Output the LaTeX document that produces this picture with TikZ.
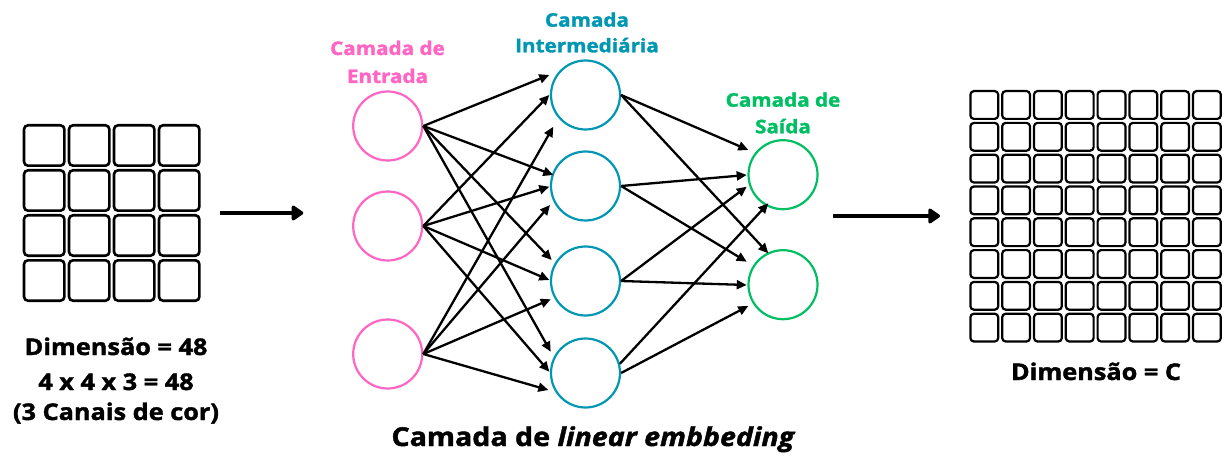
\documentclass[tikz,border=0pt]{standalone}
\usepackage{fontspec}
\setmainfont{Open Sans}
\newfontfamily\heavyfont[FakeStretch=1.1,FakeBold=1.6]{Open Sans}
\usetikzlibrary{arrows.meta,calc}
\definecolor{inpink}{HTML}{FF66C4}
\definecolor{midteal}{HTML}{0097B2}
\definecolor{outgreen}{HTML}{00BF63}

\begin{document}
\begin{tikzpicture}[x=1pt,y=-1pt,
  neuron/.style={circle,draw,line width=2.2pt,minimum size=69pt,inner sep=0pt},
  link/.style={line width=2.3pt,-{Triangle[length=10pt,width=9pt]}},
  bigarrow/.style={line width=4.7pt,-{Triangle[length=13pt,width=17pt,round]}},
  cell/.style={draw=black,line width=2.6pt,rounded corners=4pt},
  smallcell/.style={draw=black,line width=2.2pt,rounded corners=3.5pt},
  lbl/.style={font=\heavyfont\bfseries\fontsize{18.8}{22}\selectfont,anchor=base,inner sep=0pt},
  txt/.style={font=\heavyfont\bfseries\fontsize{23}{27}\selectfont,anchor=base,inner sep=0pt}]

\useasboundingbox (0,0) rectangle (1226,457);
\fill[white] (0,0) rectangle (1226,457);

% input image: 4 x 4 pixels
\foreach \i in {0,...,3}
  \foreach \j in {0,...,3}
    \draw[cell] ({22.7+45*\i+1.3},{124+45*\j+1.3}) rectangle ++(40.4,40.4);

% embedded output: 8 x 8 grid
\foreach \i in {0,...,7}
  \foreach \j in {0,...,7}
    \draw[smallcell] ({969.3+31.8*\i+1.1},{90+31.8*\j+1.1}) rectangle ++(27.8,27.8);

% neurons
\node[neuron,draw=inpink] (i1) at (387.7,126) {};
\node[neuron,draw=inpink] (i2) at (387.7,226) {};
\node[neuron,draw=inpink] (i3) at (387.7,354) {};

\node[neuron,draw=midteal] (h1) at (585.5,95) {};
\node[neuron,draw=midteal] (h2) at (585.5,186) {};
\node[neuron,draw=midteal] (h3) at (585.5,281) {};
\node[neuron,draw=midteal] (h4) at (585.5,373) {};

\node[neuron,draw=outgreen] (o1) at (783,174.7) {};
\node[neuron,draw=outgreen] (o2) at (783,284.7) {};

% input -> hidden
\draw[link] (i1.east) -- ($(h1)+(-36.2,-20)$);
\draw[link] (i1.east) -- ($(h2)+(-32.2,-11)$);
\draw[link] (i1.east) -- ($(h3)+(-33.8,-21)$);
\draw[link] (i1.east) -- ($(h4)+(-34.8,-21.3)$);

\draw[link] (i2.east) -- ($(h1)+(-36.2,0)$);
\draw[link] (i2.east) -- ($(h2)+(-36.2,0.7)$);
\draw[link] (i2.east) -- ($(h3)+(-36.2,-1)$);
\draw[link] (i2.east) -- ($(h4)+(-36.2,-1.3)$);

\draw[link] (i3.east) -- ($(h1)+(-32.2,31.7)$);
\draw[link] (i3.east) -- ($(h2)+(-35.5,19)$);
\draw[link] (i3.east) -- ($(h3)+(-34.8,18.3)$);
\draw[link] (i3.east) -- ($(h4)+(-37.2,17)$);

% hidden -> output
\draw[link] (h1.east) -- ($(o1)+(-34.7,-24.7)$);
\draw[link] (h1.east) -- ($(o2)+(-14.7,-31.4)$);
\draw[link] (h2.east) -- ($(o1)+(-36.3,0.3)$);
\draw[link] (h2.east) -- ($(o2)+(-36.3,-23)$);
\draw[link] (h3.east) -- ($(o1)+(-36.3,12)$);
\draw[link] (h3.east) -- ($(o2)+(-36.3,0.3)$);
\draw[link] (h4.15)   -- ($(o1)+(-14.7,28.6)$);
\draw[link] (h4.east) -- ($(o2)+(-34.7,21.3)$);

% flow arrows
\coordinate (la) at (220,213);
\coordinate (lb) at (303.3,213);
\coordinate (ra) at (833,216);
\coordinate (rb) at (940,216);
\draw[bigarrow] (la) -- (lb);
\draw[bigarrow] (ra) -- (rb);

% layer titles
\node[lbl,text=inpink] (tin1) at (387.5,55) {Camada de};
\node[lbl,text=inpink] (tin2) at (387.5,83) {Entrada};
\node[lbl,text=midteal] (tmid1) at (587,26.7) {Camada};
\node[lbl,text=midteal] (tmid2) at (587,52.3) {Intermediária};
\node[lbl,text=outgreen] (tout1) at (783,106.7) {Camada de};
\node[lbl,text=outgreen] (tout2) at (783,133.3) {Saída};

% captions
\node[txt] (dl1) at (116,355) {Dimensão = 48};
\node[txt] (dl2) at (116,390) {4 x 4 x 3 = 48};
\node[txt] (dl3) at (116,420) {(3 Canais de cor)};
\node[txt] (dr) at (1096,380) {Dimensão = C};
\node[txt,font=\heavyfont\bfseries\fontsize{26}{31}\selectfont] (cap) at (593.4,446) {Camada de \textit{linear embbeding}};
\end{tikzpicture}
\end{document}
